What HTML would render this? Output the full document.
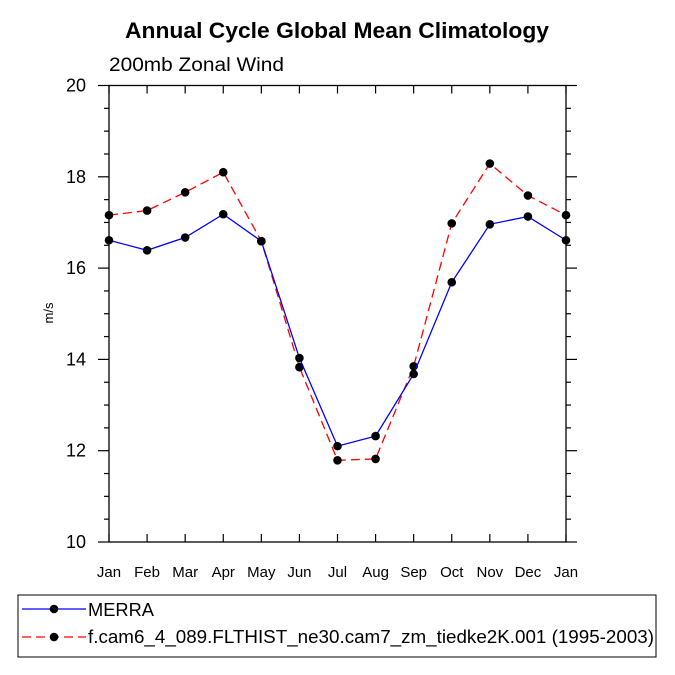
<!DOCTYPE html>
<html><head><meta charset="utf-8"><style>
body{margin:0;background:#fff}
svg{display:block;font-family:"Liberation Sans",Arial,sans-serif}
</style></head><body>
<svg id="chart" width="675" height="675" viewBox="0 0 675 675">
<text x="125" y="38" font-size="22" font-weight="bold" textLength="424" lengthAdjust="spacingAndGlyphs">Annual Cycle Global Mean Climatology</text>
<text x="109" y="71" font-size="19" textLength="175" lengthAdjust="spacingAndGlyphs">200mb Zonal Wind</text>
<text transform="translate(53,313) rotate(-90)" text-anchor="middle" font-size="13">m/s</text>
<g id="axes"></g>
<g id="series"></g>
<rect x="18" y="595" width="638" height="62" fill="none" stroke="#000" stroke-width="1"/>
<g>
<line x1="22" y1="609" x2="86" y2="609" stroke="#00f" stroke-width="1.3"/>
<circle cx="54" cy="609" r="4.3" fill="#000"/>
<text x="88" y="616" font-size="18" textLength="66" lengthAdjust="spacingAndGlyphs">MERRA</text>
</g>
<g>
<line x1="22" y1="637" x2="86" y2="637" stroke="#f00" stroke-width="1.3" stroke-dasharray="9,5"/>
<circle cx="54" cy="637" r="4.3" fill="#000"/>
<text x="88" y="643" font-size="18" textLength="566" lengthAdjust="spacingAndGlyphs">f.cam6_4_089.FLTHIST_ne30.cam7_zm_tiedke2K.001 (1995-2003)</text>
</g>
</svg>
<script>
const months=["Jan","Feb","Mar","Apr","May","Jun","Jul","Aug","Sep","Oct","Nov","Dec","Jan"];
const merra=[16.61,16.39,16.67,17.18,16.59,14.03,12.10,12.32,13.68,15.69,16.96,17.13,16.61];
const model=[17.16,17.26,17.66,18.10,16.59,13.83,11.79,11.82,13.85,16.98,18.29,17.59,17.16];
const yTicks=[10,12,14,16,18,20];
const NS="http://www.w3.org/2000/svg";
const L=109,R=566,T=85.5,B=542,ymin=10,ymax=20;
const xs=i=>L+(R-L)*i/(months.length-1);
const ys=v=>B-(B-T)*(v-ymin)/(ymax-ymin);
function mk(tag,attrs,parent){const e=document.createElementNS(NS,tag);for(const k in attrs)e.setAttribute(k,attrs[k]);parent.appendChild(e);return e;}
const ax=document.getElementById('axes');
const frame=mk('rect',{x:L,y:T,width:R-L,height:B-T,fill:'none',stroke:'#000','stroke-width':1.3},ax);


months.forEach((m,i)=>{
  const x=xs(i);
  mk('line',{x1:x,y1:B,x2:x,y2:B-8,stroke:'#000','stroke-width':1.2},ax);
  mk('line',{x1:x,y1:T,x2:x,y2:T+8,stroke:'#000','stroke-width':1.2},ax);
  const t=mk('text',{x:x,y:B+35,'text-anchor':'middle','font-size':15},ax);
  t.textContent=m;
  
  
});
for(let v=ymin;v<=ymax+0.001;v+=0.5){
  const y=ys(v),maj=Math.abs(v-Math.round(v/2)*2)<0.01;
  const len=maj?11:5;
  mk('line',{x1:L,y1:y,x2:L-len,y2:y,stroke:'#000','stroke-width':1.2},ax);
  mk('line',{x1:R,y1:y,x2:R+len,y2:y,stroke:'#000','stroke-width':1.2},ax);
}
yTicks.forEach(v=>{
  const t=mk('text',{x:L-23,y:ys(v)+6,'text-anchor':'end','font-size':18},ax);
  t.textContent=v;
  
  
});
const sg=document.getElementById('series');
function draw(vals,color,dash,name){
  const g=mk('g',{},sg);
  
  
  const pts=vals.map((v,i)=>xs(i)+','+ys(v)).join(' ');
  const a={points:pts,fill:'none',stroke:color,'stroke-width':1.3};
  if(dash)a['stroke-dasharray']=dash;
  mk('polyline',a,g);
  vals.forEach((v,i)=>{
    const c=mk('circle',{cx:xs(i),cy:ys(v),r:4.3,fill:'#000'},g);
    
    
  });
}
draw(model,'#f00','9,5','series-model');
draw(merra,'#00f',null,'series-merra');
</script>
</body></html>
